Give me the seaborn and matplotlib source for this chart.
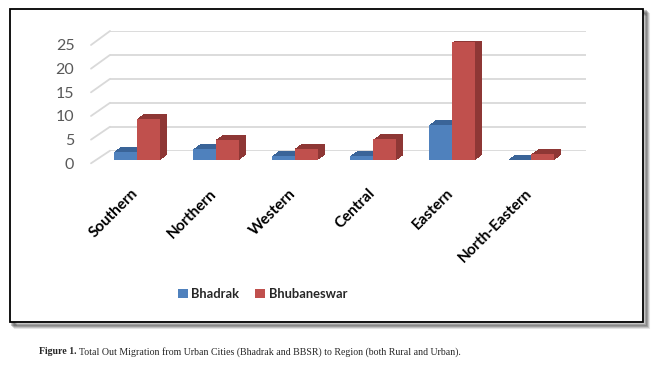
import matplotlib
matplotlib.use("Agg")
import matplotlib.pyplot as plt
import matplotlib.patheffects as pe
import matplotlib.transforms as mtransforms
from matplotlib.patches import Rectangle, ConnectionPatch
import seaborn as sns
import pandas as pd

categories = ["Southern", "Northern", "Western", "Central", "Eastern", "North-Eastern"]
bhadrak = [1.7, 2.3, 0.8, 0.9, 7.4, 0.1]
bhubaneswar = [8.6, 4.2, 2.4, 4.3, 24.7, 1.2]
series_names = ["Bhadrak", "Bhubaneswar"]
yticks = [0, 5, 10, 15, 20, 25]
caption_bold = "Figure 1."
caption_text = "Total Out Migration from Urban Cities (Bhadrak and BBSR) to Region (both Rural and Urban)."

df = pd.DataFrame({
    "region": categories * 2,
    "value": bhadrak + bhubaneswar,
    "city": [series_names[0]] * len(categories) + [series_names[1]] * len(categories),
})

sns.set_theme(style="white")
plt.rcParams["font.family"] = ["Lato", "DejaVu Sans"]

W, H = 657, 365
fig = plt.figure(figsize=(W / 100, H / 100), dpi=100)

def fx(px):
    return px / W

def fy(py):
    return 1 - py / H

# outer frame with shadow
for i, a in enumerate([0.10, 0.14, 0.18, 0.22]):
    off = 5 - i
    fig.patches.append(Rectangle((fx(9.5 + off), fy(322 + off)), fx(633.2), 313.5 / H,
                                 transform=fig.transFigure, facecolor="none",
                                 edgecolor=(0, 0, 0, a), linewidth=2.2, zorder=-3))
fig.patches.append(Rectangle((fx(9.5), fy(322)), fx(633.2), 313.5 / H,
                             transform=fig.transFigure, facecolor="white",
                             edgecolor="black", linewidth=1.3, zorder=-2))

# back wall axes (gridlines)
ax_back = fig.add_axes([fx(110), fy(150.7), fx(476), (150.7 - 31) / H])
ax_back.set_ylim(0, 25)
ax_back.set_xlim(0, 1)
for v in yticks:
    ax_back.axhline(v, color="#D9D9D9", lw=1.3)
ax_back.axis("off")
ax_back.patch.set_visible(False)

# front axes (tick labels)
ax_front = fig.add_axes([fx(91), fy(163.3), fx(10), (163.3 - 45) / H])
ax_front.set_ylim(0, 25)
ax_front.set_xlim(0, 1)
ax_front.set_yticks(yticks)
ax_front.set_yticklabels([str(v) for v in yticks], color="#595959", fontsize=11.5)
ax_front.tick_params(axis="y", length=0, pad=12)
ax_front.set_xticks([])
for s in ax_front.spines.values():
    s.set_visible(False)
ax_front.patch.set_visible(False)

for v in yticks:
    con = ConnectionPatch(xyA=(0, v), coordsA=ax_front.get_yaxis_transform(),
                          xyB=(0, v), coordsB=ax_back.get_yaxis_transform(),
                          color="#D9D9D9", lw=1.3)
    fig.add_artist(con)

# bars axes
ax = fig.add_axes([fx(97.6), fy(160), fx(570.4 - 97.6), 25 * 4.77 / H])
front_colors = ["#4F81BD", "#C0504D"]
sns.barplot(data=df, x="region", y="value", hue="city", palette=front_colors,
            width=0.585, ax=ax, saturation=1, legend=True, linewidth=0)
ax.set_ylim(0, 25)
ax.set_xlim(-0.5, len(categories) - 0.5)
ax.patch.set_visible(False)
for s in ax.spines.values():
    s.set_visible(False)
ax.set_yticks([])
ax.set_xlabel("")
ax.set_ylabel("")
ax.tick_params(axis="x", length=0, pad=19)
shift = mtransforms.ScaledTranslation(-6 / 100, 0, fig.dpi_scale_trans)
for lab in ax.get_xticklabels():
    lab.set_rotation(45)
    lab.set_ha("right")
    lab.set_rotation_mode("anchor")
    lab.set_fontweight("bold")
    lab.set_fontsize(11)
    lab.set_color("black")
    lab.set_transform(lab.get_transform() + shift)

side_colors = {"#4F81BD": "#3A6498", "#C0504D": "#8E3735"}
n = len(categories)
dx, dy = 5.0, 3.6
steps = 10
for i, bar in enumerate(ax.patches[: 2 * n]):
    side = side_colors[front_colors[i // n]]
    effects = [pe.SimplePatchShadow(offset=(dx * k / steps, dy * k / steps),
                                    shadow_rgbFace=side, alpha=1.0)
               for k in range(steps, 0, -1)]
    effects.append(pe.Normal())
    bar.set_path_effects(effects)

sns.move_legend(ax, "center", bbox_to_anchor=(fx(262.5), fy(294)),
                bbox_transform=fig.transFigure, ncol=2, frameon=False, title=None,
                fontsize=9.3, handlelength=0.75, handleheight=0.75, handletextpad=0.3,
                columnspacing=1.2)
for t in ax.get_legend().get_texts():
    t.set_fontweight("bold")

# caption
t1 = fig.text(fx(39), fy(352), caption_bold, family="Liberation Serif", fontweight="bold",
              fontsize=7.1, va="center", ha="left")
fig.canvas.draw()
bb = t1.get_window_extent()
fig.text((bb.x1 + 2.5) / W, fy(352), caption_text, family="Liberation Serif",
         fontsize=7.1, va="center", ha="left")

fig.savefig("out.png", dpi=100)
